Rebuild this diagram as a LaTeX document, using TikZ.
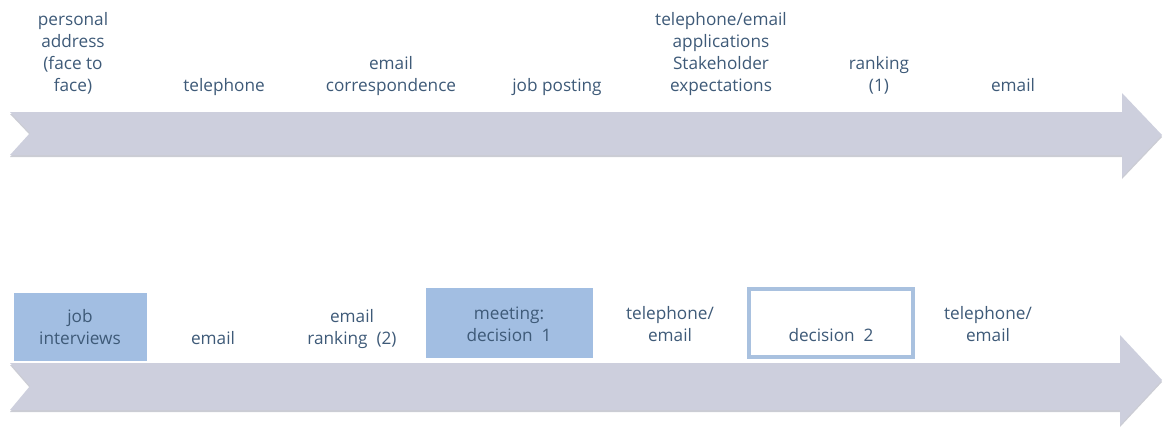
\documentclass[tikz,border=0pt]{standalone}
\usepackage{fontspec}
\setmainfont{Open Sans}
\begin{document}
\definecolor{arrowfill}{HTML}{CDCFDD}
\definecolor{arrowshade}{HTML}{A9ABB8}
\definecolor{boxfill}{HTML}{A2BEE2}
\definecolor{boxline}{HTML}{A9C1DF}
\definecolor{labeltext}{HTML}{3E5A78}
\begin{tikzpicture}[x=1pt,y=-1pt,
  lbl/.style={text=labeltext,align=center,inner sep=0pt,
    font=\fontsize{17.2}{21.7}\selectfont},
  toplbl/.style={lbl,anchor=base},
  botlbl/.style={lbl,anchor=base},
  flow/.style={fill=arrowfill},
  flowshadow/.style={fill=arrowshade,opacity=0.6},
  filledbox/.style={fill=boxfill},
  openbox/.style={draw=boxline,line width=3.5pt,fill=white}]
\useasboundingbox (0,0) rectangle (1163,432);

% upper time line
\fill[flowshadow] (10,114) -- (1122,114) -- (1122,95) -- (1162,137) -- (1122,179)
  -- (1122,157) -- (10,157) -- (30,135) -- cycle;
\fill[flow] (10,112) -- (1122,112) -- (1122,93) -- (1162,135) -- (1122,177)
  -- (1122,155) -- (10,155) -- (30,133) -- cycle;

% lower time line
\fill[flowshadow] (10,365) -- (1120,365) -- (1120,337) -- (1162,382) -- (1120,427)
  -- (1120,412) -- (10,412) -- (30,388) -- cycle;
\fill[flow] (10,363) -- (1120,363) -- (1120,335) -- (1162,380) -- (1120,425)
  -- (1120,410) -- (10,410) -- (30,386) -- cycle;

% highlighted steps
\fill[filledbox] (14,293) rectangle (147,361);
\fill[filledbox] (426,288) rectangle (593,358);
\draw[openbox] (749,289) rectangle (913,357);

% labels above the upper line
\node[toplbl] (t1) at (73,91) {personal\\address\\(face to\\face)};
\node[toplbl] (t2) at (224,91) {telephone};
\node[toplbl] (t3) at (391,91) {email\\correspondence};
\node[toplbl] (t4) at (557,91) {job posting};
\node[toplbl] (t5) at (721,91) {telephone/email\\applications\\Stakeholder\\expectations};
\node[toplbl] (t6) at (879,91) {ranking\\(1)};
\node[toplbl] (t7) at (1013,91) {email};

% labels above the lower line
\node[botlbl] (b1) at (80,344) {job\\interviews};
\node[botlbl] (b2) at (213,344) {email};
\node[botlbl] (b3) at (352,344) {email\\ranking~~(2)};
\node[botlbl] (b4) at (509,341) {meeting:\\decision~~1};
\node[botlbl] (b5) at (670,341) {telephone/\\email};
\node[botlbl] (b6) at (831,341) {decision~~2};
\node[botlbl] (b7) at (988,341) {telephone/\\email};
\end{tikzpicture}
\end{document}
